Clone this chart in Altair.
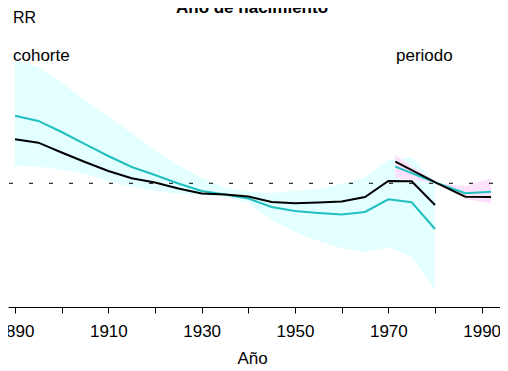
import altair as alt
import pandas as pd

# ---- data (RR) ----
cohort_years = [1890, 1895, 1900, 1905, 1910, 1915, 1920, 1925, 1930, 1935,
                1940, 1945, 1950, 1955, 1960, 1965, 1970, 1975, 1980]
cohort_black = [1.553, 1.501, 1.361, 1.237, 1.131, 1.051, 1.008, 0.949, 0.903, 0.894,
                0.876, 0.829, 0.819, 0.825, 0.834, 0.872, 1.023, 1.020, 0.805]
cohort_cyan = [1.966, 1.865, 1.670, 1.481, 1.314, 1.177, 1.087, 0.998, 0.926, 0.894,
               0.859, 0.789, 0.758, 0.743, 0.732, 0.751, 0.852, 0.827, 0.633]
cohort_hi = [3.431, 3.200, 2.726, 2.300, 1.941, 1.654, 1.395, 1.201, 1.054, 0.964,
             0.917, 0.908, 0.926, 0.945, 0.993, 1.065, 1.262, 1.301, 1.013]
cohort_lo = [1.189, 1.183, 1.142, 1.097, 1.023, 0.964, 0.926, 0.903, 0.890, 0.876,
             0.821, 0.693, 0.614, 0.562, 0.524, 0.503, 0.529, 0.479, 0.344]

period_years = [1971.5, 1980.5, 1986.5, 1992]
period_black = [1.241, 1.000, 0.875, 0.872]
period_cyan = [1.181, 1.000, 0.905, 0.919]
period_hi = [1.327, 1.000, 0.973, 1.051]
period_lo = [1.054, 1.000, 0.855, 0.817]

tick_years = [1890, 1900, 1910, 1920, 1930, 1940, 1950, 1960, 1970, 1980, 1990]
ref_value = [1.0]

cohort = pd.DataFrame({"year": cohort_years, "black": cohort_black, "cyan": cohort_cyan,
                       "hi": cohort_hi, "lo": cohort_lo})
period = pd.DataFrame({"year": period_years, "black": period_black, "cyan": period_cyan,
                       "hi": period_hi, "lo": period_lo})
ref = pd.DataFrame({"rr": ref_value})

FONT = "Liberation Sans"
CYAN = "#22BFBF"

xscale = alt.Scale(domain=[1888.5, 1993.93], nice=False, zero=False)
yscale = alt.Scale(type="log", domain=[0.2902, 5.772], nice=False, zero=False)

xaxis = alt.Axis(values=tick_years, format="d",
                 labelExpr="datum.value % 20 == 10 ? datum.label : ''",
                 title="Año", titleFont=FONT, titleFontSize=17, titleFontWeight="normal",
                 titleColor="black", titleX=244, titleY=56, titleBaseline="alphabetic",
                 titleAlign="center", titleAnchor="start",
                 labelFont=FONT, labelFontSize=17, labelColor="black", labelPadding=10,
                 labelFlush=False, labelOverlap=False,
                 tickSize=6, tickColor="black", domainColor="black", domainWidth=1,
                 tickWidth=1, grid=False)

x = alt.X("year:Q", scale=xscale, axis=xaxis)

band_c = alt.Chart(cohort).mark_area(color="#E3FFFF", opacity=1).encode(
    x=x, y=alt.Y("lo:Q", scale=yscale, axis=None), y2="hi:Q")
band_p = alt.Chart(period).mark_area(color="#FDE2FB", opacity=1).encode(
    x=x, y=alt.Y("lo:Q", scale=yscale, axis=None), y2="hi:Q")

refline = alt.Chart(ref).mark_rule(color="black", strokeWidth=1, strokeDash=[4, 16],
                                   strokeDashOffset=13).encode(
    y=alt.Y("rr:Q", scale=yscale, axis=None))

def line(df, field, color):
    return alt.Chart(df).mark_line(color=color, strokeWidth=2).encode(
        x=x, y=alt.Y(f"{field}:Q", scale=yscale, axis=None))

one = alt.Data(values=[{}])

def label(txt, px, py, size=17, align="left", weight="normal"):
    return alt.Chart(one).mark_text(text=txt, font=FONT, fontSize=size, align=align,
                                    baseline="alphabetic", color="black",
                                    fontWeight=weight).encode(
        x=alt.value(px), y=alt.value(py))

chart = alt.layer(
    band_c, band_p, refline,
    line(cohort, "cyan", CYAN), line(cohort, "black", "black"),
    line(period, "cyan", CYAN), line(period, "black", "black"),
    label("RR", 5, 15, size=16),
    label("cohorte", 5, 53),
    label("periodo", 388, 53),
    label("Año de nacimiento", 244, 5, align="center", weight="bold"),
).properties(
    width=492, height=299,
    autosize=alt.AutoSizeParams(type="none"),
    padding={"left": 0, "right": 0, "top": 0, "bottom": 64},
).configure_view(stroke=None)

chart.save("out.html", embed_options={"renderer": "svg", "actions": False})
